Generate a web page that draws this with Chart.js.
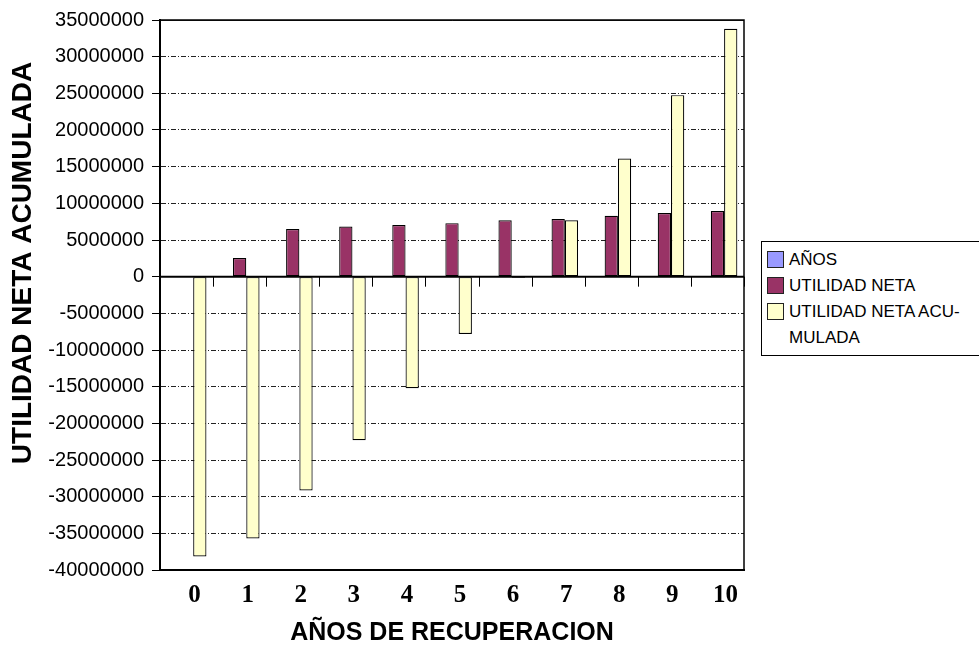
<!DOCTYPE html>
<html>
<head>
<meta charset="utf-8">
<script src="https://cdn.jsdelivr.net/npm/chart.js@4/dist/chart.umd.min.js"></script>
<style>
  html, body { margin: 0; padding: 0; background: #fff; overflow: hidden; }
  #wrap { position: relative; width: 979px; height: 651px; }
  #legend {
    position: absolute; left: 761px; top: 241px; width: 260px; height: 115px;
    border: 1px solid #000; box-sizing: border-box; padding: 5px 0 0 5px;
    font: 17px "Liberation Sans", Arial, sans-serif; color: #000; background: #fff;
  }
  .item { display: flex; align-items: flex-start; line-height: 26px; }
  .sw { width: 17px; height: 17px; box-sizing: border-box; border: 1px solid #222; margin: 4px 5px 0 0; flex: none; }
  .txt { width: 182px; }
</style>
</head>
<body>
<div id="wrap">
  <canvas id="c" width="979" height="651"></canvas>
  <div id="legend"></div>
</div>
<script>
// Years of the recovery period
const years = ['0', '1', '2', '3', '4', '5', '6', '7', '8', '9', '10'];
// Series values
const anos = [0, 1, 2, 3, 4, 5, 6, 7, 8, 9, 10];
const utilidadNeta = [0, 2550000, 6500000, 6850000, 7050000, 7300000, 7680000, 7860000, 8300000, 8680000, 8960000];
const utilidadAcumulada = [-38150000, -35700000, -29150000, -22300000, -15200000, -7820000, -180000, 7700000, 16100000, 24750000, 33800000];
// Series names (soft hyphen lets the long name wrap in the legend)
const seriesNames = ['AÑOS', 'UTILIDAD NETA', 'UTILIDAD NETA ACU\u00ADMULADA'];
const seriesColors = ['#9999FF', '#993366', '#FFFFCC'];
// Axis settings
const yMin = -40000000, yMax = 35000000, yStep = 5000000;
const xTitle = 'AÑOS DE RECUPERACION';
const yTitle = 'UTILIDAD NETA ACUMULADA';

const seriesValues = [anos, utilidadNeta, utilidadAcumulada];

// Frame, zero axis with its tick marks, and the rotated value-axis title
const decorations = {
  id: 'decorations',
  afterDatasetsDraw(chart) {
    const { ctx, chartArea: a, scales: { x, y } } = chart;
    const y0 = y.getPixelForValue(0);
    ctx.save();
    ctx.strokeStyle = '#000';
    ctx.lineWidth = 1.5;
    ctx.strokeRect(a.left, a.top, a.right - a.left, a.bottom - a.top);
    ctx.lineWidth = 2;
    ctx.beginPath();
    ctx.moveTo(a.left, y0);
    ctx.lineTo(a.right, y0);
    ctx.stroke();
    ctx.lineWidth = 1;
    ctx.beginPath();
    for (let i = 1; i <= years.length; i++) {
      const px = Math.round(x.getPixelForValue(i - 0.5)) + 0.5;
      ctx.moveTo(px, y0);
      ctx.lineTo(px, y0 + 10);
    }
    ctx.stroke();
    ctx.restore();
  },
  afterDraw(chart) {
    const ctx = chart.ctx;
    ctx.save();
    ctx.translate(23, chart.chartArea.top + 243);
    ctx.rotate(-Math.PI / 2);
    ctx.font = 'bold 28px "Liberation Sans", Arial, sans-serif';
    ctx.fillStyle = '#000';
    ctx.textAlign = 'center';
    ctx.textBaseline = 'middle';
    ctx.fillText(yTitle, 0, 0);
    ctx.restore();
  }
};

const chart = new Chart(document.getElementById('c'), {
  type: 'bar',
  data: {
    labels: years,
    datasets: seriesValues.map((vals, i) => ({
      label: seriesNames[i],
      data: vals,
      backgroundColor: seriesColors[i],
      borderColor: '#000',
      borderWidth: 1.2,
      borderSkipped: false,
      categoryPercentage: 0.75,
      barPercentage: 1.0
    }))
  },
  options: {
    responsive: false,
    devicePixelRatio: 1,
    animation: false,
    layout: { padding: { top: 20, right: 235, left: 0, bottom: 0 } },
    plugins: { legend: { display: false }, tooltip: { enabled: false } },
    scales: {
      x: {
        grid: { display: false, drawTicks: false },
        border: { display: true, color: '#000', width: 2 },
        ticks: {
          color: '#000',
          font: { family: '"Liberation Serif", "Times New Roman", serif', size: 25, weight: 'bold' },
          padding: 11,
          labelOffset: 8,
          maxRotation: 0,
          autoSkip: false
        },
        title: {
          display: true,
          text: xTitle,
          color: '#000',
          font: { family: '"Liberation Sans", Arial, sans-serif', size: 25, weight: 'bold' },
          padding: { top: 0, bottom: 3 }
        },
        afterFit(scale) { scale.height = 81; }
      },
      y: {
        min: yMin,
        max: yMax,
        ticks: {
          stepSize: yStep,
          color: '#000',
          padding: 8,
          font: { family: '"Liberation Sans", Arial, sans-serif', size: 20 },
          callback: v => String(v)
        },
        grid: {
          color: '#222',
          lineWidth: 1,
          tickLength: 8,
          tickColor: '#000',
          tickBorderDash: [],
          drawTicks: true
        },
        border: {
          display: true,
          color: '#000',
          width: 2,
          dash: ctx => (ctx.tick && (ctx.tick.value === 0 || ctx.tick.value === yMax)) ? [] : [5, 2, 1, 2]
        },
        afterFit(scale) { scale.width = 160; }
      }
    }
  },
  plugins: [decorations]
});

// Legend built from the chart's datasets
const legend = document.getElementById('legend');
chart.data.datasets.forEach(ds => {
  const item = document.createElement('div');
  item.className = 'item';
  const sw = document.createElement('span');
  sw.className = 'sw';
  sw.style.background = ds.backgroundColor;
  const txt = document.createElement('span');
  txt.className = 'txt';
  txt.textContent = ds.label;
  item.appendChild(sw);
  item.appendChild(txt);
  legend.appendChild(item);
});
</script>
</body>
</html>
